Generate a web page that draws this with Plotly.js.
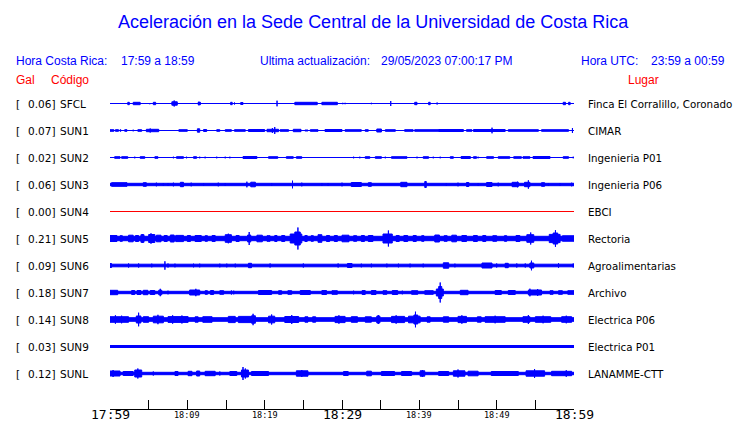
<!DOCTYPE html>
<html><head><meta charset="utf-8">
<script src="https://cdn.plot.ly/plotly-3.0.1.min.js"></script>
<style>html,body{margin:0;padding:0;background:#fff}</style>
</head><body><div id="chart" style="width:740px;height:423px"></div>
<script>
// ---- data ----
const stations = ['SFCL','SUN1','SUN2','SUN3','SUN4','SUN5','SUN6','SUN7','SUN8','SUN9','SUNL'];
const galValues = ['0.06','0.07','0.02','0.06','0.00','0.21','0.09','0.18','0.14','0.03','0.12'];
const places = ['Finca El Corralillo, Coronado','CIMAR','Ingenieria P01','Ingenieria P06','EBCI','Rectoria','Agroalimentarias','Archivo','Electrica P06','Electrica P01','LANAMME-CTT'];
// continuous background amplitude (half height) of each trace
const baseAmp = [0,0,0,1.7,0,2.7,1.8,1.7,2.3,1.5,1.7];
// bursts: [start minute, end minute, half amplitude]
const evSFCL = [[2.3,2.5,1.7],[3.0,3.9,1.7],[5.1,5.2,0.8],[5.6,5.9,1.7],[7.0,7.0,0.8],[8.0,8.7,2.2],[8.3,8.3,3.5],[10.3,10.3,0.8],[11.4,11.7,1.7],[11.5,11.5,2.3],[15.0,15.0,0.8],[15.6,15.8,1.7],[16.1,16.1,1.5],[16.9,17.2,1.5],[17.9,17.9,0.8],[21.6,21.6,3.3],[23.9,26.8,1.7],[27.4,29.4,1.7],[30.1,30.1,1.2],[30.4,30.4,1.2],[32.2,32.2,0.8],[33.8,33.8,1.2],[36.3,36.3,3.0],[39.4,39.7,1.7],[40.6,40.6,0.8],[41.2,41.4,1.7],[42.3,42.3,1.5],[46.9,46.9,0.8],[58.6,58.9,1.7],[59.3,59.5,1.7]];
const evSUN1 = [[0,0.5,1.3],[0.7,1.1,1.3],[1.3,1.4,1.3],[1.9,2.2,1.3],[3.0,3.0,1.3],[3.6,4.1,1.3],[4.7,6.3,1.7],[5.2,5.2,2.5],[7.5,7.5,0.8],[8.2,8.2,0.8],[8.9,10.0,1.3],[11.3,11.6,2.2],[12.1,12.5,1.5],[13.8,14.2,1.3],[14.9,15.7,1.3],[16.1,17.5,1.3],[17.9,20.0,1.5],[20.3,21.8,1.7],[21.0,21.0,3.0],[21.3,21.3,4.0],[22.0,23.1,1.3],[23.7,24.7,1.7],[25.2,25.6,1.0],[25.9,26.9,1.3],[27.8,30.0,1.5],[30.4,32.5,1.3],[33.0,33.4,1.3],[34.5,35.1,2.0],[35.6,36.9,1.3],[38.1,39.2,1.3],[39.4,42.5,1.3],[42.5,45.7,1.5],[46.1,46.8,1.3],[47.0,51.1,1.5],[49.4,49.4,3.3],[51.5,55.4,1.3],[55.8,59.3,1.3],[59.8,59.8,3.0]];
const evSUN2 = [[0.6,1.3,1.3],[1.5,2.3,1.3],[3.2,3.2,1.3],[3.9,4.5,1.3],[5.8,6.2,1.3],[8.2,8.2,1.3],[8.6,9.5,1.3],[9.9,9.9,1.3],[10.8,11.2,1.3],[11.6,11.6,1.3],[12.3,12.3,1.3],[13.8,13.8,1.3],[14.9,14.9,1.3],[15.5,15.5,1.3],[17.2,19.0,1.5],[20.5,21.7,1.3],[22.8,23.7,1.3],[24.1,24.8,1.3],[25.6,25.6,1.0],[29.4,29.4,1.0],[31.5,31.5,1.3],[32.3,32.3,1.3],[33.0,33.6,1.3],[34.3,35.1,1.3],[35.6,35.6,1.3],[36.4,38.4,1.3],[39.7,39.7,1.3],[40.5,41.2,1.3],[41.8,41.8,1.3],[42.7,42.7,1.3],[44.0,44.4,1.3],[45.4,46.6,1.5],[47.0,47.4,1.3],[47.6,47.6,1.3],[48.7,49.6,1.3],[50.2,51.7,1.3],[52.2,53.2,1.3],[53.4,54.3,1.3],[54.7,56.9,1.5],[58.6,59.3,1.3],[59.9,59.9,1.3]];
const evSUN3 = [[0.2,2.2,2.3],[4.3,4.7,2.3],[6.0,6.0,2.3],[6.9,6.9,2.0],[7.5,7.5,2.0],[8.2,8.2,2.3],[9.1,9.5,2.7],[10.5,10.5,2.3],[12.1,12.1,2.0],[14.0,14.0,2.3],[14.9,14.9,2.0],[17.7,17.7,3.3],[18.2,18.8,2.8],[20.9,20.9,2.0],[23.6,23.6,4.3],[24.8,24.8,2.3],[27.4,27.4,2.0],[28.2,28.2,2.0],[30.0,30.0,2.3],[31.2,32.5,2.5],[33.4,33.8,2.3],[37.6,38.4,2.7],[40.7,40.9,3.5],[43.5,43.5,2.0],[45.0,45.0,2.3],[46.1,46.4,2.5],[47.6,47.6,2.0],[48.7,49.4,2.5],[50.2,50.2,2.3],[52.0,52.8,2.7],[52.7,52.7,3.3],[53.6,54.3,2.7],[54.1,54.1,4.7],[55.8,56.2,2.3],[56.7,56.7,2.0],[58.2,58.2,2.0],[59.7,59.7,2.3]];
const evSUN4 = [];
const evSUN5 = [[0,0.9,3.5],[1.3,1.6,3.3],[2.4,3.0,3.8],[3.3,3.7,3.5],[4.0,4.4,4.3],[4.2,4.2,5.0],[5.0,5.8,4.5],[5.3,5.3,5.7],[6.0,6.6,3.8],[7.0,7.4,3.5],[7.8,8.3,4.0],[8.5,9.5,3.6],[10.0,10.4,3.5],[11.0,11.8,3.5],[12.3,12.6,3.3],[13.2,13.6,3.5],[14.9,15.7,4.3],[15.3,15.3,5.3],[16.3,16.7,3.5],[17.8,18.2,4.0],[18.0,18.0,7.0],[19.0,19.7,3.8],[20.3,20.7,3.3],[21.3,21.6,3.5],[22.2,22.6,3.5],[23.3,24.8,5.0],[23.9,24.6,7.0],[24.3,24.3,11.5],[25.2,25.5,3.5],[26.0,26.3,3.3],[26.9,27.4,4.3],[28.0,28.4,3.5],[29.0,29.4,3.5],[30.0,30.9,3.8],[31.5,31.9,3.3],[32.5,32.9,3.5],[33.4,34.0,3.5],[35.3,36.5,5.0],[36.0,36.0,8.5],[37.0,37.4,3.5],[38.0,38.5,3.5],[39.2,39.6,3.5],[40.3,40.6,3.3],[42.0,42.6,4.0],[43.2,43.6,3.3],[44.2,44.8,3.8],[45.5,46.1,3.5],[47.0,47.5,3.5],[48.2,48.6,3.5],[49.5,50.0,3.3],[51.0,51.3,3.3],[52.5,53.0,3.5],[53.9,54.8,4.3],[54.4,54.4,6.5],[56.8,58.2,4.6],[57.3,57.9,6.0],[57.6,57.6,8.8],[58.5,60,3.2]];
const evSUN6 = [[0,0.2,2.5],[2.4,2.4,2.5],[3.7,3.7,2.5],[5.4,5.4,2.3],[7.1,7.1,4.7],[7.5,7.5,2.5],[8.4,8.4,2.3],[10.8,10.8,2.3],[11.6,11.6,2.3],[14.2,14.2,2.3],[15.1,15.1,2.3],[16.2,16.2,2.3],[17.9,18.3,2.7],[20.7,20.7,2.5],[25.0,25.0,2.5],[29.5,29.5,2.5],[30.7,31.3,2.5],[32.5,32.5,2.3],[33.8,33.8,2.3],[35.8,35.8,2.3],[37.3,37.3,2.3],[38.8,38.8,2.3],[40.5,40.5,2.3],[43.1,43.8,3.2],[44.6,44.6,2.3],[48.1,49.4,3.0],[50.0,50.0,2.5],[51.1,51.5,2.7],[52.6,52.6,2.5],[53.7,53.7,2.5],[54.3,54.8,3.0],[54.5,54.5,5.3],[58.0,58.0,2.7],[59.9,59.9,2.5]];
const evSUN7 = [[0,1.0,2.7],[2.8,3.2,2.5],[3.5,4.0,2.5],[4.3,4.9,2.7],[5.2,5.8,2.5],[6.3,6.7,2.8],[6.5,6.5,4.2],[7.5,7.5,2.3],[10.3,11.6,3.0],[11.1,11.1,4.2],[12.3,12.6,2.3],[13.0,13.4,2.5],[14.2,14.7,2.3],[15.7,15.7,2.5],[16.0,16.0,2.3],[19.2,20.9,2.5],[21.8,22.2,2.3],[23.0,23.5,2.3],[24.6,25.9,2.5],[27.4,28.0,2.5],[28.7,29.4,2.3],[31.5,31.5,2.3],[32.6,33.0,2.5],[33.8,34.4,2.5],[35.3,35.8,2.3],[36.5,37.2,2.5],[37.8,37.8,2.3],[39.0,39.8,2.3],[40.7,41.8,2.3],[42.2,43.1,4.0],[42.5,42.9,6.5],[42.7,42.7,10.5],[45.3,46.3,2.7],[49.8,50.6,2.5],[51.5,52.4,2.5],[54.1,55.8,3.0],[54.3,54.3,4.3],[55.3,55.3,4.0],[56.9,57.3,2.3],[58.0,58.5,2.3],[59.2,60,2.3]];
const evSUN8 = [[0,2.4,3.3],[0.7,0.7,4.7],[1.5,1.5,4.3],[3.4,4.0,4.0],[3.7,3.7,7.3],[4.3,5.0,3.3],[5.6,6.9,3.8],[6.2,6.2,5.2],[7.5,10.1,3.4],[8.1,8.1,4.7],[9.3,9.3,4.5],[11.0,11.4,3.2],[12.0,13.2,3.3],[15.3,16.2,3.6],[16.6,18.3,3.6],[18.3,18.8,4.2],[18.5,18.5,6.2],[20.5,21.3,3.8],[20.9,20.9,5.5],[22.6,24.4,3.5],[23.5,23.5,5.0],[25.2,25.6,3.2],[26.2,26.6,3.2],[29.1,30.4,3.6],[29.6,29.6,4.7],[31.2,32.0,3.3],[33.0,33.8,3.2],[34.5,34.9,4.0],[34.7,34.7,5.0],[36.4,38.1,3.6],[37.0,37.0,4.7],[38.6,40.1,3.8],[39.3,39.8,5.0],[39.5,39.5,8.3],[41.0,41.4,3.2],[43.1,43.8,3.2],[45.0,46.1,3.6],[45.5,45.5,4.7],[47.5,48.0,3.2],[48.5,51.1,3.3],[49.8,49.8,4.3],[53.4,54.3,3.3],[54.1,54.1,5.0],[55.0,57.0,3.3],[56.0,56.0,4.3],[58.4,59.7,3.3],[59.0,59.0,4.3]];
const evSUN9 = [[3.0,3.0,1.8],[6.5,6.5,1.8],[11.0,11.0,1.8],[17.0,17.0,2.0],[25.4,25.4,1.8],[33.0,33.0,1.8],[36.0,36.0,1.8],[42.0,42.0,1.8],[46.5,46.5,1.8],[52.0,52.0,1.8],[57.5,57.5,1.8]];
const evSUNL = [[0,1.3,3.0],[0.4,0.4,4.0],[1.7,3.0,2.5],[3.2,4.1,4.0],[3.6,3.6,5.5],[5.6,5.6,2.5],[8.4,8.8,2.5],[10.1,10.6,2.7],[11.2,11.6,3.0],[12.3,13.6,2.7],[14.2,14.2,2.5],[15.5,16.4,2.5],[17.0,17.9,4.0],[17.2,17.2,7.0],[17.5,17.5,5.5],[18.3,20.5,2.5],[24.1,25.6,3.2],[24.8,24.8,4.0],[30.2,30.8,2.5],[33.2,33.8,2.8],[35.1,36.8,2.5],[37.7,39.0,2.5],[40.1,40.7,3.2],[40.4,40.4,4.0],[42.5,43.8,2.5],[44.4,45.9,3.2],[45.0,45.0,4.5],[46.3,47.6,2.8],[49.3,52.8,2.5],[53.8,56.2,3.2],[54.9,54.9,5.0],[57.1,59.7,2.7],[59.0,59.0,3.8]];
const events = [evSFCL,evSUN1,evSUN2,evSUN3,evSUN4,evSUN5,evSUN6,evSUN7,evSUN8,evSUN9,evSUNL];
const traceColors = ['#0000ff','#0000ff','#0000ff','#0000ff','#ff0000','#0000ff','#0000ff','#0000ff','#0000ff','#0000ff','#0000ff'];
const tickMinutes = [0,5,10,15,20,25,30,35,40,45,50,55,60];
const labelMinutes = [0,10,20,30,40,50,60];
const tickLabels = ['17:59','18:09','18:19','18:29','18:39','18:49','18:59'];
const bigLabels = ['17:59','18:29','18:59'];

// ---- layout helpers ----
const W = 740, H = 423, L = 110, R = 574, T = 90, B = 409;
const SPACING = 27;
const ROW0 = 103.5; // pixel row of the first trace
const px = x => (x - L) / (R - L);
const py = y => (B - y) / (B - T);

const traces = stations.map((st, i) => {
  const yc = -i * SPACING;
  const xs = [], ys = [];
  const rect = (t0, t1, a) => {
    const h = Math.max(a - 0.5, 0);
    xs.push(t0, t1, t1, t0, t0, null);
    ys.push(yc - h, yc - h, yc + h, yc + h, yc - h, null);
  };
  rect(0, 60, baseAmp[i]);
  events[i].forEach(e => rect(e[0], e[1], e[2]));
  return {type:'scatter', mode:'lines', x:xs, y:ys, fill:'toself',
    fillcolor:traceColors[i], line:{color:traceColors[i], width:1},
    hoverinfo:'skip', showlegend:false, name:st};
});

const ann = [];
const add = (text, x, y, anchor, size, color, family, yref) => ann.push({
  text, x, y, xref:'paper', yref: yref || 'paper', xanchor:anchor, yanchor:'middle',
  showarrow:false, borderpad:0, font:{size, color, family}});
const SANS = 'Liberation Sans, Arial, sans-serif';
const DJ = 'DejaVu Sans, sans-serif';
add('Aceleración en la Sede Central de la Universidad de Costa Rica', px(373), py(22), 'center', 18, '#0000ff', SANS);
add('Hora Costa Rica:', px(15), py(61), 'left', 12, '#0000ff', SANS);
add('17:59 a 18:59', px(120), py(61), 'left', 12, '#0000ff', SANS);
add('Ultima actualización:', px(259), py(61), 'left', 12, '#0000ff', SANS);
add('29/05/2023 07:00:17 PM', px(380), py(61), 'left', 12, '#0000ff', SANS);
add('Hora UTC:', px(580), py(61), 'left', 12, '#0000ff', SANS);
add('23:59 a 00:59', px(650), py(61), 'left', 12, '#0000ff', SANS);
add('Gal', px(15), py(80), 'left', 12, '#ff0000', SANS);
add('Código', px(50), py(80), 'left', 12, '#ff0000', SANS);
add('Lugar', px(627), py(80), 'left', 12, '#ff0000', SANS);
stations.forEach((st, i) => {
  const y = -i * SPACING;
  add('[', px(15), y, 'left', 10.5, '#000', DJ, 'y');
  add(galValues[i] + ']', px(56), y, 'right', 10.5, '#000', DJ, 'y');
  add(st, px(58.5), y, 'left', 10.5, '#000', DJ, 'y');
  add(places[i], px(587), y, 'left', 10.3, '#000', DJ, 'y');
});
labelMinutes.forEach((m, k) => {
  const big = bigLabels.includes(tickLabels[k]);
  ann.push({text: tickLabels[k], x: m, xref:'x', y: py(big ? 414 : 415), yref:'paper',
    xanchor:'center', yanchor:'middle', showarrow:false, borderpad:0,
    font:{size: big ? 13 : 8.5, color:'#000', family:'DejaVu Sans Mono, monospace'}});
});

const layout = {
  width: W, height: H, margin:{l:L, r:W-R, t:T, b:H-B, pad:0},
  paper_bgcolor:'#fff', plot_bgcolor:'#fff', showlegend:false,
  xaxis:{range:[0,60], showgrid:false, zeroline:false, showline:true, linecolor:'#000', linewidth:1,
    ticks:'inside', ticklen:9, tickwidth:1, tickcolor:'#000', tickmode:'array', tickvals:tickMinutes,
    showticklabels:false, fixedrange:true},
  yaxis:{range:[-(B - ROW0), ROW0 - T], showgrid:false, zeroline:false, showline:false,
    showticklabels:false, ticks:'', fixedrange:true},
  annotations: ann
};
Plotly.newPlot('chart', traces, layout, {staticPlot:true, displayModeBar:false});
</script></body></html>
